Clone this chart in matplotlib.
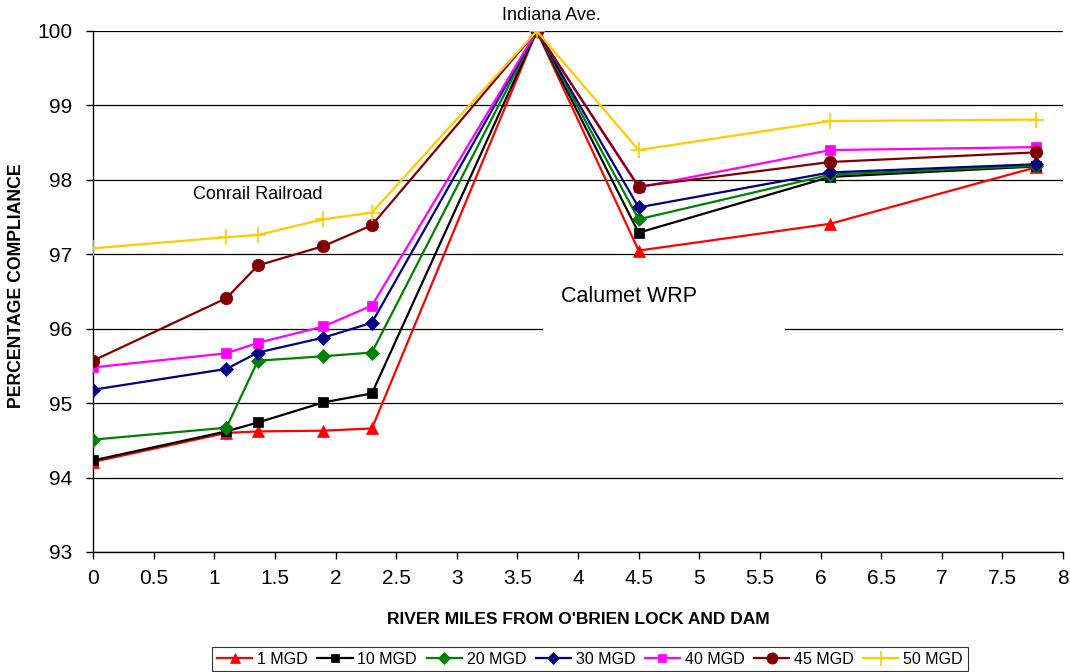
import matplotlib
matplotlib.use("Agg")
import matplotlib.pyplot as plt
from matplotlib.patches import Rectangle

plt.rcParams['font.family'] = ['Liberation Sans', 'DejaVu Sans']

river_miles = [0, 1.1, 1.36, 1.9, 2.3, 3.66, 4.5, 6.08, 7.78]
s1 = [94.21, 94.60, 94.62, 94.63, 94.66, 100, 97.05, 97.41, 98.17]
s10 = [94.23, 94.62, 94.74, 95.01, 95.13, 100, 97.29, 98.04, 98.18]
s20 = [94.51, 94.67, 95.57, 95.63, 95.68, 100, 97.47, 98.07, 98.19]
s30 = [95.18, 95.46, 95.68, 95.88, 96.08, 100, 97.63, 98.10, 98.21]
s40 = [95.48, 95.67, 95.81, 96.03, 96.31, 100, 97.90, 98.40, 98.44]
s45 = [95.57, 96.41, 96.85, 97.11, 97.39, 100, 97.91, 98.24, 98.37]
s50 = [97.08, 97.23, 97.26, 97.47, 97.56, 100, 98.40, 98.79, 98.81]
labels = ['1 MGD', '10 MGD', '20 MGD', '30 MGD', '40 MGD', '45 MGD', '50 MGD']
series = [s1, s10, s20, s30, s40, s45, s50]
colors = ['#FF0000', '#000000', '#008000', '#000080', '#FF00FF', '#800000', '#FFCC00']
markers = ['^', 's', 'D', 'D', 's', 'o', '+']
msizes = [8, 7, 7, 7, 7, 9, 12]

fig = plt.figure(figsize=(10.7, 6.72), dpi=100)
ax = fig.add_axes([93/1070, 1-552/672, (1063-93)/1070, (552-31)/672])

for y, c, m, ms, lab in zip(series, colors, markers, msizes, labels):
    ax.plot(river_miles, y, color=c, marker=m, markersize=ms, linewidth=1.6,
            markeredgewidth=1.2 if m == '+' else 0.5, markeredgecolor=c, label=lab, zorder=3)

ax.set_xlim(0, 8)
ax.set_ylim(93, 100)
ax.set_xticks([i * 0.5 for i in range(17)])
ax.set_xticklabels(['0', '0.5', '1', '1.5', '2', '2.5', '3', '3.5', '4', '4.5', '5', '5.5', '6', '6.5', '7', '7.5', '8'])
ax.set_yticks(range(93, 101))
ax.tick_params(axis='both', labelsize=15, direction='out', length=5, width=1)
ax.tick_params(axis='x', pad=7)
ax.tick_params(axis='y', pad=10)
ax.grid(axis='y', color='black', linewidth=0.9)
ax.set_axisbelow(True)
for sp in ['top', 'right']:
    ax.spines[sp].set_visible(False)
ax.spines['left'].set_linewidth(1)
ax.spines['bottom'].set_linewidth(1)

# white box around the Calumet WRP label (hides part of the 96 grid line)
ax.add_patch(Rectangle((3.71, 95.9), 2.0, 0.95, facecolor='white', edgecolor='none', zorder=1.5))

ax.set_xlabel("RIVER MILES FROM O'BRIEN LOCK AND DAM", fontsize=12.5, fontweight='bold')
ax.xaxis.set_label_coords(0.5, -0.115)
ax.set_ylabel("PERCENTAGE COMPLIANCE", fontsize=12.7, fontweight='bold')
ax.yaxis.set_label_coords(-0.070, 0.512)

ax.text(3.78, 100.1, 'Indiana Ave.', ha='center', va='bottom', fontsize=13)
ax.text(1.36, 97.8, 'Conrail Railroad', ha='center', va='center', fontsize=13)
ax.text(4.42, 96.43, 'Calumet WRP', ha='center', va='center', fontsize=15.5, zorder=2)

leg = fig.legend(loc='lower center', bbox_to_anchor=(590/1070, -0.011), ncol=7, fontsize=11.5,
                 frameon=True, fancybox=False, edgecolor='black', handlelength=2.2,
                 handletextpad=0.3, columnspacing=0.6, borderpad=0.3, markerscale=0.9)
leg.get_frame().set_linewidth(0.8)

fig.savefig('out.png', dpi=100)
